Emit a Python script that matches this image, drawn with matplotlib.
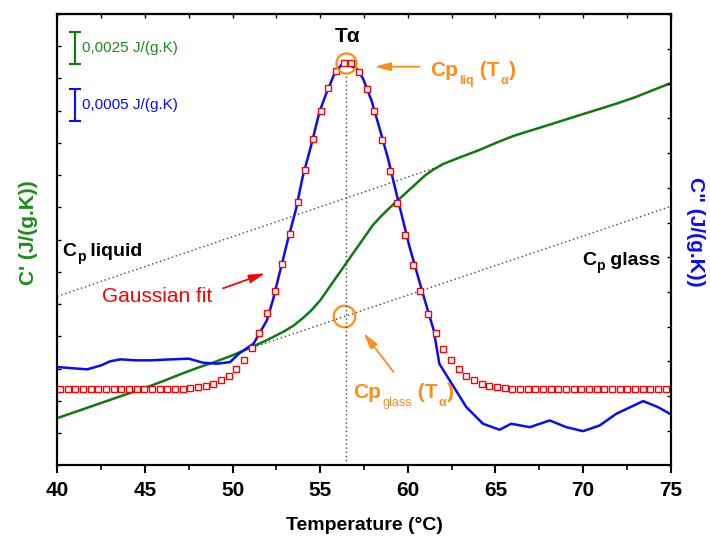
import numpy as np
import matplotlib
matplotlib.use('Agg')
import matplotlib.pyplot as plt
from matplotlib.ticker import MultipleLocator
from matplotlib.transforms import IdentityTransform

plt.rcParams['font.family'] = ['Liberation Sans', 'DejaVu Sans']

# --- donnees ---
# C' (stockage), axe de gauche
temp_c1 = [40, 41, 42, 43, 44, 45, 46, 47, 48, 49, 50, 51, 52, 53, 53.5, 54,
           54.5, 55, 55.5, 56, 56.5, 57, 57.5, 58, 58.5, 59, 59.5, 60, 60.5,
           61, 61.5, 62, 62.5, 63, 64, 65, 66, 67, 68, 69, 70, 71, 72, 73, 74, 75]
c1 = [1.80367, 1.80414, 1.80461, 1.80508, 1.80555, 1.80601, 1.80652, 1.80706,
      1.80757, 1.80803, 1.80854, 1.80912, 1.80974, 1.81044, 1.81086, 1.81141,
      1.81203, 1.81280, 1.81377, 1.81474, 1.81571, 1.81668, 1.81765, 1.81862,
      1.81936, 1.82002, 1.82064, 1.82126, 1.82188, 1.82250, 1.82297, 1.82336,
      1.82363, 1.82390, 1.82441, 1.82499, 1.82553, 1.82596, 1.82638, 1.82681,
      1.82724, 1.82766, 1.82809, 1.82856, 1.82910, 1.82964]

# C'' (perte), axe de droite
temp_c2 = [40.0, 41.0, 41.7, 42.5, 43.0, 43.6, 44.5, 45.3, 46.5, 47.5, 48.3,
           49.1, 49.86, 50.4, 51.2, 51.96, 52.3, 53.15, 53.63, 54.0, 54.49,
           54.96, 55.35, 55.82, 56.2, 56.49, 57.06, 57.44, 57.92, 58.39, 58.87,
           59.35, 60.1, 60.86, 61.48, 61.8, 62.39, 63.34, 64.29, 65.24, 65.9,
           66.96, 68.1, 69.05, 70.0, 70.95, 71.9, 73.43, 74.28, 74.95]
c2 = [0.001526, 0.001505, 0.001490, 0.001552, 0.001614, 0.001645, 0.001630,
      0.001630, 0.001645, 0.001656, 0.001594, 0.001578, 0.001603, 0.001743,
      0.001889, 0.002250, 0.002561, 0.003492, 0.003984, 0.004474, 0.004966,
      0.005483, 0.005769, 0.006079, 0.006208, 0.006224, 0.006157, 0.006002,
      0.005665, 0.005226, 0.004760, 0.004217, 0.003388, 0.002665, 0.002095,
      0.001578, 0.001319, 0.000905, 0.000647, 0.000554, 0.000647, 0.000594,
      0.000698, 0.000594, 0.000532, 0.000621, 0.000802, 0.000998, 0.000905,
      0.000802]

# ajustement gaussien (carres rouges), 80 points
fit_start, fit_step = 40.15, 0.4375
c2_fit = [0.00118, 0.00118, 0.00118, 0.00118, 0.00118, 0.00118, 0.00118, 0.00118,
          0.00118, 0.00118, 0.00118, 0.00118, 0.00118, 0.00118, 0.00118, 0.00118,
          0.00119, 0.00120, 0.00121, 0.00123, 0.00127, 0.00132, 0.00139, 0.00149,
          0.00163, 0.00182, 0.00206, 0.00236, 0.00271, 0.00313, 0.00359, 0.00408,
          0.00458, 0.00506, 0.00550, 0.00585, 0.00611, 0.00624, 0.00624, 0.00610,
          0.00584, 0.00549, 0.00505, 0.00457, 0.00407, 0.00357, 0.00311, 0.00270,
          0.00235, 0.00205, 0.00181, 0.00163, 0.00149, 0.00139, 0.00132, 0.00127,
          0.00123, 0.00121, 0.00120, 0.00119, 0.00118, 0.00118, 0.00118, 0.00118,
          0.00118, 0.00118, 0.00118, 0.00118, 0.00118, 0.00118, 0.00118, 0.00118,
          0.00118, 0.00118, 0.00118, 0.00118, 0.00118, 0.00118, 0.00118, 0.00118]
temp_fit = fit_start + fit_step * np.arange(len(c2_fit))

# tangentes Cp liquide / verre
cp_liq_T = [40, 62]
cp_liq = [1.81311, 1.82328]
cp_glass_T = [50.5, 75]
cp_glass = [1.80885, 1.82008]

t_alpha = 56.45
bar_c1 = 0.0025
bar_c2 = 0.0005

green = '#0f7a0f'
green_txt = '#1b8c1b'
blue = '#0a0aff'
orange = '#ff8c1a'

fig = plt.figure(figsize=(7.1, 5.41), dpi=100)
ax = fig.add_axes([0.0807, 0.1396, 0.8639, 0.8346])
ax2 = ax.twinx()

ax.set_xlim(40, 75)
ax.set_ylim(1.800, 1.835)
ax2.set_ylim(0, 0.007)

renderer = fig.canvas.get_renderer()


def rich_text(a, x, y, parts, color):
    # morceaux (texte, taille, graisse, decalage vertical px, decalage horizontal px)
    X, Y = a.transData.transform((x, y))
    for s, size, weight, dy, dx in parts:
        t = fig.text(X + dx, Y + dy, s, transform=IdentityTransform(),
                     fontsize=size, fontweight=weight, color=color,
                     va='baseline', ha='left')
        X = t.get_window_extent(renderer).x1


# lignes pointillees
ax.plot(cp_liq_T, cp_liq, color='#444444', lw=1, ls=(0, (1, 2)))
ax.plot(cp_glass_T, cp_glass, color='#444444', lw=1, ls=(0, (1, 2)))
ax2.plot([t_alpha, t_alpha], [0, 0.00607], color='#444444', lw=1, ls=(0, (1, 2)))

ax.plot(temp_c1, c1, color=green, lw=1.8)
ax2.plot(temp_c2, c2, color=blue, lw=1.8)
ax2.plot(temp_fit, c2_fit, ls='none', marker='s', ms=4.3, mfc='white',
         mec='red', mew=1.0)

# cercles Cp(T_alpha)
ax2.plot([t_alpha], [max(c2_fit)], marker='o', ms=14.5, mfc='none', mec=orange, mew=1.6)
ax.plot([t_alpha - 0.1], [np.interp(t_alpha, cp_glass_T, cp_glass)], marker='o',
        ms=15.5, mfc='none', mec=orange, mew=1.6)

# fleches
arrow = '-|>,head_length=0.95,head_width=0.25'
ax2.annotate('', xy=(58.1, 0.006182), xytext=(60.66, 0.006182),
             arrowprops=dict(arrowstyle=arrow, color=orange, lw=1.3,
                             mutation_scale=10, shrinkA=0, shrinkB=0))
ax2.annotate('', xy=(51.86, 0.00298), xytext=(49.46, 0.002747),
             arrowprops=dict(arrowstyle=arrow, color='red', lw=1.3,
                             mutation_scale=10, shrinkA=0, shrinkB=0))
ax.annotate('', xy=(57.48, 1.81027), xytext=(59.19, 1.80724),
            arrowprops=dict(arrowstyle=arrow, color=orange, lw=1.3,
                            mutation_scale=10, shrinkA=0, shrinkB=0))

# barres d'echelle
ax.errorbar([41.0], [1.83112 + bar_c1 / 2], yerr=[bar_c1 / 2], fmt='none',
            ecolor=green, elinewidth=1.5, capsize=4, capthick=1.5)
ax2.errorbar([41.0], [0.005344 + bar_c2 / 2], yerr=[bar_c2 / 2], fmt='none',
             ecolor=blue, elinewidth=1.5, capsize=4, capthick=1.5)
ax.text(41.41, 1.83236, '0,0025 J/(g.K)', color=green_txt, fontsize=11, va='center')
ax.text(41.39, 1.82797, '0,0005 J/(g.K)', color=blue, fontsize=11, va='center')

# textes
ax.text(t_alpha + 0.1, 1.83325, 'T\u03b1', fontsize=15, fontweight='bold',
        ha='center', va='center')
rich_text(ax, 61.28, 1.83017,
          [('Cp', 15, 'bold', 0, 0), ('liq', 9, 'bold', -8, 1),
           (' (T', 15, 'bold', 0, 0), ('\u03b1', 9, 'bold', -8, 1),
           (')', 15, 'bold', 0, 1)], orange)
rich_text(ax, 56.89, 1.80524,
          [('Cp', 15, 'bold', 0, 0), ('glass', 9, 'normal', -8, 1),
           (' (T', 15, 'bold', 0, 0), ('\u03b1', 9, 'bold', -8, 1),
           (')', 15, 'bold', 0, 1)], orange)
rich_text(ax, 40.31, 1.81620,
          [('C', 14, 'bold', 0, 0), ('p', 10, 'bold', -5, 0),
           (' liquid', 14, 'bold', 0, 0)], 'black')
rich_text(ax, 69.97, 1.81556,
          [('C', 14, 'bold', 0, 0), ('p', 10, 'bold', -5, 0),
           (' glass', 14, 'bold', 0, 0)], 'black')
ax.text(42.54, 1.81271, 'Gaussian fit', color='red', fontsize=15, va='baseline')

# axes et graduations
ax.set_xticks(np.arange(40, 76, 5))
ax.xaxis.set_minor_locator(MultipleLocator(2.5))
ax.tick_params(axis='x', which='major', direction='out', length=6, width=1.5,
               labelsize=15, pad=5)
ax.tick_params(axis='x', which='minor', direction='out', length=3.5, width=1.2)
for lab in ax.get_xticklabels():
    lab.set_fontweight('bold')
ax.yaxis.set_major_locator(MultipleLocator(0.0025))
ax.tick_params(axis='y', direction='in', length=3, width=1, labelleft=False)
ax2.yaxis.set_major_locator(MultipleLocator(0.000538))
ax2.tick_params(axis='y', direction='in', length=3, width=1, labelright=False)

top = ax.secondary_xaxis('top')
top.xaxis.set_major_locator(MultipleLocator(2.5))
top.tick_params(direction='in', length=3, width=1, labeltop=False)

for a in (ax, ax2):
    for s in a.spines.values():
        s.set_linewidth(1.5)
top.spines['top'].set_linewidth(1.5)

fig.text(364 / 710, 1 - 526 / 541, 'Temperature (\u00b0C)', fontsize=14,
         fontweight='bold', ha='center', va='center')
fig.text(28.7 / 710, 1 - 233 / 541, "C' (J/(g.K))", color=green_txt, fontsize=15,
         fontweight='bold', rotation=90, ha='center', va='center')
fig.text(696 / 710, 1 - 232 / 541, 'C" (J/(g.K))', color=blue, fontsize=15,
         fontweight='bold', rotation=270, ha='center', va='center')

plt.savefig('out.png', dpi=100)
plt.close(fig)
